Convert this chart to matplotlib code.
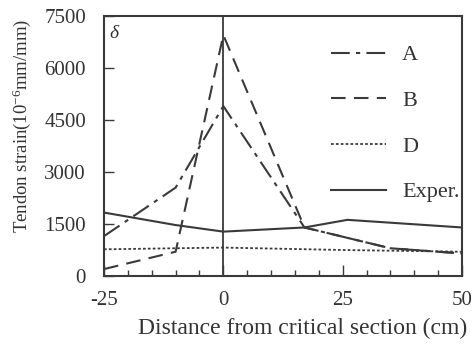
import numpy as np
import matplotlib.pyplot as plt
from matplotlib.ticker import MultipleLocator

plt.rcParams['font.family'] = ['Liberation Serif', 'DejaVu Serif']
plt.rcParams['mathtext.fontset'] = 'custom'
plt.rcParams['mathtext.rm'] = 'Liberation Serif'
plt.rcParams['mathtext.it'] = 'Liberation Serif:italic'
plt.rcParams['axes.unicode_minus'] = False

# data
x_a = [-25, -10, 0, 17, 35, 50]
y_a = [1150, 2550, 4900, 1400, 800, 650]
x_b = [-25, -10, 0, 17, 35, 50]
y_b = [200, 700, 6950, 1400, 800, 650]
x_d = [-25, 0, 25, 50]
y_d = [770, 820, 750, 700]
x_exp = [-25, -10, 0, 17, 26, 50]
y_exp = [1830, 1470, 1280, 1400, 1620, 1400]

col = '#3a3a3a'
tcol = '#333333'

fig = plt.figure(figsize=(4.75, 3.44), dpi=100)
ax = fig.add_axes([104/475, 1 - 276/344, 358/475, 260/344])

ax.plot(x_a, y_a, color=col, lw=1.5, dashes=(9, 3, 2, 3), label='A')
ax.plot(x_b, y_b, color=col, lw=1.5, dashes=(7, 4), label='B')
ax.plot(x_d, y_d, color=col, lw=1.3, dashes=(1.5, 1.2), label='D')
ax.plot(x_exp, y_exp, color=col, lw=1.5, label='Exper.')
ax.axvline(0, color=col, lw=1.3)

ax.set_xlim(-25, 50)
ax.set_ylim(0, 7500)
ax.set_xticks([-25, 0, 25, 50])
ax.xaxis.set_minor_locator(MultipleLocator(5))
ax.set_yticks([0, 1500, 3000, 4500, 6000, 7500])
ax.tick_params(axis='both', which='both', direction='in', colors=col,
               labelcolor=tcol, labelsize=15, width=1)
ax.tick_params(axis='x', which='major', length=8, pad=10.5)
ax.tick_params(axis='x', which='minor', length=4)
ax.tick_params(axis='y', which='major', length=7, pad=13)
for s in ax.spines.values():
    s.set_color(col)
    s.set_linewidth(1.5)

ax.set_xlabel('Distance from critical section (cm)', fontsize=17, color=tcol, labelpad=6)
ax.xaxis.label.set_x(0.556)
ax.set_ylabel('Tendon strain(10$^{-6}$mm/mm)', fontsize=13.5, color=tcol, labelpad=8)
ax.yaxis.label.set_y(0.577)
ax.text(0.015, 0.965, r'$\delta$', transform=ax.transAxes, fontsize=14,
        ha='left', va='top', color=tcol)

leg = ax.legend(loc='upper right', bbox_to_anchor=(1.03, 0.94), frameon=False,
                fontsize=16, handlelength=2.5, handletextpad=0.7,
                labelspacing=1.13, borderaxespad=0.2)
for t in leg.get_texts():
    t.set_color(tcol)

fig.savefig('out.png', dpi=100)
